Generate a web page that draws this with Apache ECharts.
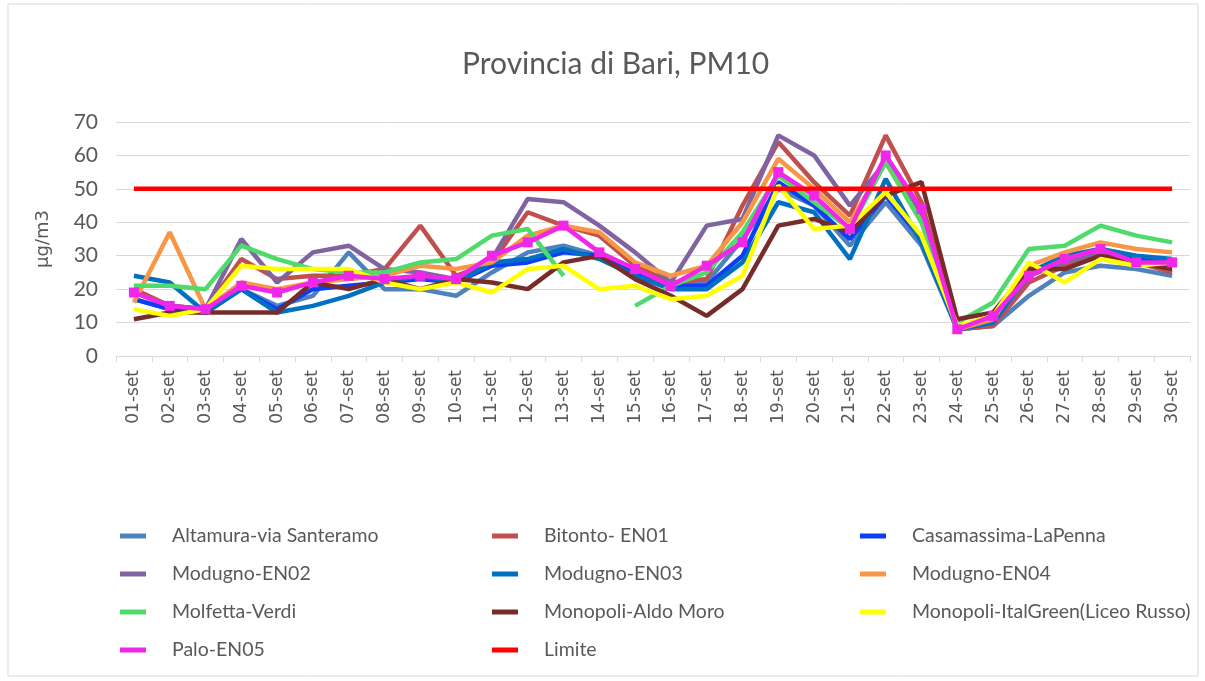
<!DOCTYPE html>
<html>
<head>
<meta charset="utf-8">
<script src="https://cdn.jsdelivr.net/npm/echarts@6/dist/echarts.min.js"></script>
<style>
  html, body { margin: 0; padding: 0; background: #fff; }
  #chart { width: 1205px; height: 681px; }
</style>
</head>
<body>
<div id="chart"></div>
<script>
// giorni di settembre
const days = ['01-set','02-set','03-set','04-set','05-set','06-set','07-set','08-set','09-set','10-set',
  '11-set','12-set','13-set','14-set','15-set','16-set','17-set','18-set','19-set','20-set',
  '21-set','22-set','23-set','24-set','25-set','26-set','27-set','28-set','29-set','30-set']
const yTicks = [0, 10, 20, 30, 40, 50, 60, 70]

const altamura = [17,14,13,20,15,18,31,20,20,18,25,31,33,30,24,22,22,35,50,45,33,46,33,8,9,18,25,27,26,24]
const bitonto = [20,15,14,29,23,24,24,26,39,24,28,43,39,36,27,22,23,45,64,52,42,66,46,8,9,22,27,30,28,25]
const casamassima = [17,14,13,20,14,20,21,22,23,22,27,28,31,30,25,21,21,30,52,45,35,48,35,8,10,24,29,31,29,28]
const modugno02 = [19,15,14,35,22,31,33,26,25,23,29,47,46,39,31,22,39,41,66,60,45,58,42,8,10,24,28,31,28,27]
const modugno03 = [24,22,13,20,13,15,18,22,24,22,28,29,32,29,24,20,20,28,46,43,29,53,34,8,10,25,30,32,30,29]
const modugno04 = [16,37,14,22,20,22,23,24,27,26,28,36,39,37,28,24,27,40,59,50,40,58,40,8,11,27,31,34,32,31]
const molfetta = [21,21,20,33,29,26,25,25,28,29,36,38,24,null,15,21,25,37,54,46,38,58,40,10,16,32,33,39,36,34]
const aldoMoro = [11,13,13,13,13,22,20,23,20,23,22,20,28,30,23,18,12,20,39,41,37,48,52,11,13,26,26,30,28,26]
const italGreen = [14,12,14,27,26,26,26,22,20,22,19,26,27,20,21,17,18,24,51,38,39,49,36,9,12,28,22,29,27,28]
const palo = [19,15,14,21,19,22,24,23,24,23,30,34,39,31,26,21,27,34,55,48,38,60,44,8,12,24,29,32,28,28]
const limite = days.map(() => 50)

const textFont = 'Lato'
const chart = echarts.init(document.getElementById('chart'))

function line(name, data, color, extra) {
  return Object.assign({
    name: name,
    type: 'line',
    data: data,
    symbol: 'none',
    connectNulls: false,
    lineStyle: { color: color, width: 4.5 },
    itemStyle: { color: color },
    animation: false
  }, extra || {})
}

const legendBase = {
  orient: 'vertical',
  top: 521,
  icon: 'rect',
  itemWidth: 26,
  itemHeight: 5,
  itemGap: 18,
  textStyle: { fontFamily: textFont, fontSize: 19.5, color: '#595959', lineHeight: 20, padding: [0, 0, 0, 21] },
  selectedMode: false
}

const option = {
  backgroundColor: '#fff',
  title: {
    text: 'Provincia di Bari, PM10',
    left: 457,
    top: 44,
    textStyle: { fontFamily: textFont, fontSize: 30, fontWeight: 'normal', color: '#595959' }
  },
  graphic: [{
    type: 'rect',
    shape: { x: 8, y: 4, width: 1190, height: 672 },
    style: { fill: 'none', stroke: '#d9d9d9', lineWidth: 1 },
    silent: true
  }],
  legend: [
    Object.assign({ left: 115, data: ['Altamura-via Santeramo', 'Modugno-EN02', 'Molfetta-Verdi', 'Palo-EN05'] }, legendBase),
    Object.assign({ left: 487, data: ['Bitonto- EN01', 'Modugno-EN03', 'Monopoli-Aldo Moro', 'Limite'] }, legendBase),
    Object.assign({ left: 855, data: ['Casamassima-LaPenna', 'Modugno-EN04', 'Monopoli-ItalGreen(Liceo Russo)'] }, legendBase)
  ],
  grid: { left: 116, right: 15, top: 122, bottom: 325 },
  xAxis: {
    type: 'category',
    data: days,
    boundaryGap: true,
    axisLine: { lineStyle: { color: '#d9d9d9', width: 1 } },
    axisTick: { show: true, length: 6, lineStyle: { color: '#d9d9d9' } },
    axisLabel: { rotate: 90, margin: 14, fontFamily: 'DejaVu Sans', fontSize: 17, color: '#595959' }
  },
  yAxis: {
    type: 'value',
    min: yTicks[0],
    max: yTicks[yTicks.length - 1],
    interval: 10,
    name: 'µg/m3',
    nameLocation: 'middle',
    nameRotate: 90,
    nameGap: 64,
    nameTextStyle: { fontFamily: 'DejaVu Sans', fontSize: 18, color: '#595959' },
    axisLine: { show: false },
    axisTick: { show: false },
    axisLabel: { fontFamily: textFont, fontSize: 21, color: '#595959', margin: 18 },
    splitLine: { lineStyle: { color: '#d9d9d9', width: 1 } }
  },
  series: [
    line('Altamura-via Santeramo', altamura, '#4f81bd'),
    line('Bitonto- EN01', bitonto, '#c0504d'),
    line('Casamassima-LaPenna', casamassima, '#0b3ef5'),
    line('Modugno-EN02', modugno02, '#8064a2'),
    line('Modugno-EN03', modugno03, '#0070c0'),
    line('Modugno-EN04', modugno04, '#f79646'),
    line('Molfetta-Verdi', molfetta, '#4fda6b'),
    line('Monopoli-Aldo Moro', aldoMoro, '#772c2a'),
    line('Monopoli-ItalGreen(Liceo Russo)', italGreen, '#ffff00'),
    line('Palo-EN05', palo, '#f026e8', { symbol: 'rect', symbolSize: 10, showSymbol: true }),
    line('Limite', limite, '#ff0000')
  ]
}

chart.setOption(option)
</script>
</body>
</html>
